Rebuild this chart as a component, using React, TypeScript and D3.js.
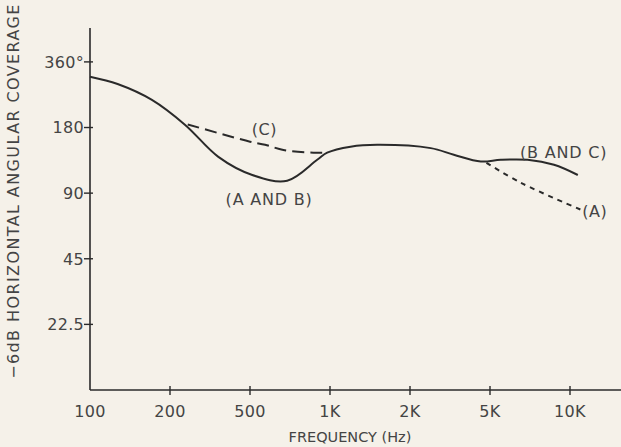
import React from "react";
import * as d3 from "d3";

const freqTicks = [100, 200, 500, 1000, 2000, 5000, 10000];
const freqTickLabels = ["100", "200", "500", "1K", "2K", "5K", "10K"];
const angleTicks = [360, 180, 90, 45, 22.5];
const angleTickLabels = ["360°", "180", "90", "45", "22.5"];

// Curve (A AND B) / (B AND C) – solid
const abFreq = [100, 127, 171, 238, 348, 510, 690, 895, 976, 1195, 1505, 2537, 3303, 4500, 5490, 6925, 8706, 10700];
const abDeg = [308, 285, 241, 185, 132, 109, 102.6, 128, 138, 147, 150, 144.8, 135, 125.7, 128, 128, 121.4, 109];
// Curve (C) – dashed
const cFreq = [245, 500, 570, 668, 867, 976];
const cDeg = [186, 155, 150, 142, 138, 138];
// Curve (A) – dotted
const aFreq = [4800, 6534, 11000];
const aDeg = [124, 100.4, 75.5];

const W = 621;
const H = 447;
const FONT = "'DejaVu Sans', sans-serif";
const INK = "#2a2a2a";
const TXT = "#444";

export default function App() {
  const x = d3
    .scaleLog()
    .domain(freqTicks)
    .range(freqTicks.map((_, i) => 90 + i * 80));
  const y = d3.scaleLog().base(2).domain([11.25, 515]).range([390, 28]);

  const line = d3
    .line<[number, number]>()
    .x((d) => x(d[0]))
    .y((d) => y(d[1]))
    .curve(d3.curveCatmullRom.alpha(0.5));

  const ab = abFreq.map((f, i) => [f, abDeg[i]] as [number, number]);
  const c = cFreq.map((f, i) => [f, cDeg[i]] as [number, number]);
  const a = aFreq.map((f, i) => [f, aDeg[i]] as [number, number]);

  const x0 = x(100);
  const y0 = y(11.25);
  const yTop = y(515);

  const labelStyle: React.CSSProperties = {
    fontFamily: FONT,
    fontWeight: 400,
    fill: TXT,
  };

  return (
    <svg
      width={W}
      height={H}
      style={{ position: "fixed", left: 0, top: 0, display: "block" }}
    >
      <rect x={0} y={0} width={W} height={H} fill="#f5f1e9" />
      {/* axes */}
      <line x1={x0} y1={yTop} x2={x0} y2={y0} stroke={INK} strokeWidth={1.6} />
      <line x1={x0} y1={y0} x2={W} y2={y0} stroke={INK} strokeWidth={1.6} />
      {angleTicks.map((t, i) => (
        <g key={"yt" + i}>
          <line x1={x0 - 6} x2={x0 + 3} y1={y(t)} y2={y(t)} stroke={INK} strokeWidth={1.4} />
          <text
            x={x0 - 6}
            y={y(t)}
            dy="0.36em"
            textAnchor="end"
            fontSize={16}
            letterSpacing={0.3}
            style={labelStyle}
          >
            {angleTickLabels[i]}
          </text>
        </g>
      ))}
      {freqTicks.map((t, i) => (
        <g key={"xt" + i}>
          {i > 0 && (
            <line x1={x(t)} x2={x(t)} y1={y0 - 4} y2={y0 + 5} stroke={INK} strokeWidth={1.4} />
          )}
          <text
            x={x(t)}
            y={411}
            dy="0.36em"
            textAnchor="middle"
            fontSize={16}
            letterSpacing={0.3}
            style={labelStyle}
          >
            {freqTickLabels[i]}
          </text>
        </g>
      ))}
      <text
        x={350}
        y={437}
        dy="0.36em"
        textAnchor="middle"
        fontSize={14.5}
        letterSpacing={0}
        style={labelStyle}
      >
        FREQUENCY (Hz)
      </text>
      <text
        transform={`translate(13, 191) rotate(-90)`}
        dy="0.36em"
        textAnchor="middle"
        fontSize={16}
        letterSpacing={1.4}
        style={labelStyle}
      >
        −6dB HORIZONTAL ANGULAR COVERAGE
      </text>

      {/* curves */}
      <path d={line(ab) || ""} fill="none" stroke={INK} strokeWidth={2} />
      <path d={line(c) || ""} fill="none" stroke={INK} strokeWidth={2} strokeDasharray="12 6" />
      <path d={line(a) || ""} fill="none" stroke={INK} strokeWidth={2} strokeDasharray="5 5" />

      {/* annotations */}
      <text x={x(566)} y={y(177)} dy="0.36em" textAnchor="middle" fontSize={16} letterSpacing={0.5} style={labelStyle}>
        (C)
      </text>
      <text x={x(590)} y={y(84)} dy="0.36em" textAnchor="middle" fontSize={16} letterSpacing={0.8} style={labelStyle}>
        (A AND B)
      </text>
      <text x={x(9460)} y={y(139)} dy="0.36em" textAnchor="middle" fontSize={16} letterSpacing={0.8} style={labelStyle}>
        (B AND C)
      </text>
      <text x={x(12400)} y={y(74)} dy="0.36em" textAnchor="middle" fontSize={16} letterSpacing={0.5} style={labelStyle}>
        (A)
      </text>
    </svg>
  );
}
